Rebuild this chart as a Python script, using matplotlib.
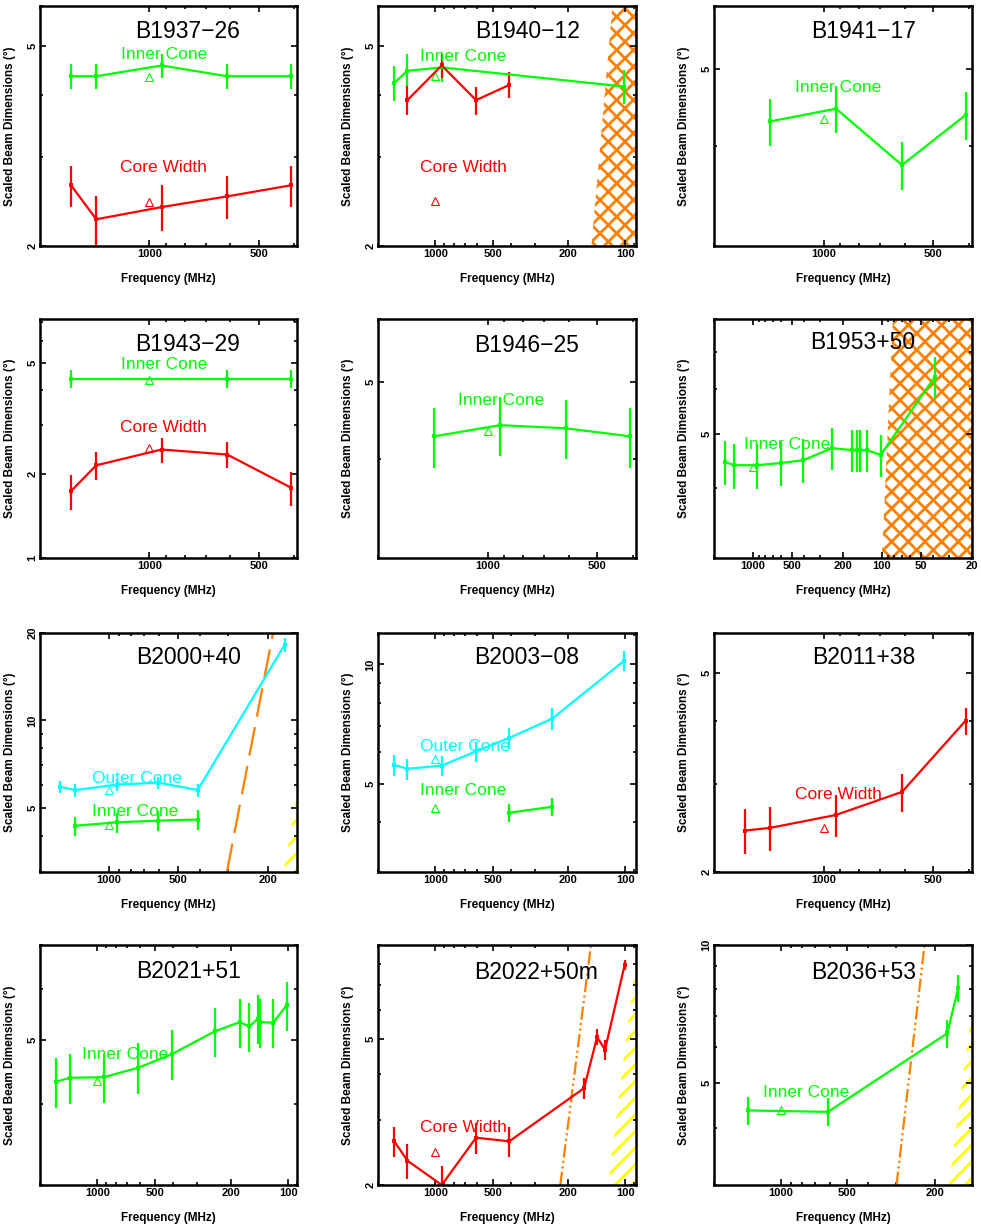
import matplotlib
matplotlib.use('Agg')
import matplotlib.pyplot as plt
from matplotlib.ticker import FixedLocator, FuncFormatter, NullFormatter

plt.rcParams['font.family'] = ['Liberation Sans', 'DejaVu Sans']
plt.rcParams['hatch.linewidth'] = 2.0

GREEN = '#00ff00'
RED = '#ff0000'
CYAN = '#00ffff'
ORANGE = '#ff8000'
YELLOW = '#ffff00'

# ---------------- data ----------------
# B1937-26
f1937 = [1642, 1400, 925, 610, 408]
inner1937 = [4.35, 4.35, 4.57, 4.35, 4.35]
inner1937_err = [0.25, 0.25, 0.25, 0.25, 0.25]
core1937 = [2.64, 2.26, 2.39, 2.51, 2.64]
core1937_err = [0.25, 0.25, 0.25, 0.25, 0.25]
tri1937_inner = 4.34
tri1937_core = 2.45

# B1940-12
f1940_inner = [1642, 1400, 925, 102]
inner1940 = [4.22, 4.46, 4.53, 4.15]
inner1940_err = [0.33, 0.35, 0.30, 0.32]
f1940_core = [1400, 925, 610, 408]
core1940 = [3.90, 4.57, 3.90, 4.18]
core1940_err = [0.26, 0.25, 0.25, 0.25]
tri1940_inner = 4.36
tri1940_core = 2.46
hatch1940 = [151, 117]  # boundary freq at y-bottom, y-top

# B1941-17
f1941 = [1400, 925, 610, 408]
inner1941 = [4.30, 4.46, 3.79, 4.38]
inner1941_err = [0.29, 0.30, 0.26, 0.30]
tri1941_inner = 4.33

# B1943-29
f1943_inner = [1642, 610, 408]
inner1943 = [4.39, 4.39, 4.39]
inner1943_err = [0.32, 0.32, 0.32]
f1943_core = [1642, 1400, 925, 610, 408]
core1943 = [1.74, 2.15, 2.45, 2.35, 1.79]
core1943_err = [0.25, 0.25, 0.25, 0.25, 0.25]
tri1943_inner = 4.35
tri1943_core = 2.48

# B1946-25
f1946 = [1400, 925, 610, 408]
inner1946 = [4.27, 4.41, 4.37, 4.27]
inner1946_err = [0.37, 0.38, 0.37, 0.37]
tri1946_inner = 4.34

# B1953+50
f1953 = [1642, 1400, 925, 610, 408, 243, 170, 157, 148, 130, 102, 39]
inner1953 = [4.45, 4.39, 4.39, 4.43, 4.48, 4.71, 4.67, 4.67, 4.67, 4.67, 4.58, 6.30]
inner1953_err = [0.40, 0.40, 0.40, 0.40, 0.40, 0.41, 0.40, 0.40, 0.40, 0.40, 0.40, 0.55]
tri1953_inner = 4.35
hatch1953 = [100, 82]

# B2000+40
f2000_outer = [1642, 1400, 925, 610, 408, 170]
outer2000 = [5.90, 5.75, 6.00, 6.10, 5.75, 18.2]
outer2000_err = [0.30, 0.30, 0.30, 0.30, 0.30, 1.0]
f2000_inner = [1400, 925, 610, 408]
inner2000 = [4.33, 4.45, 4.51, 4.55]
inner2000_err = [0.33, 0.35, 0.35, 0.35]
tri2000_outer = 5.77
tri2000_inner = 4.35
limit2000 = [(304, 3.0), (191, 20.0)]
yellow2000 = [(172, 3.0), (150, 5.53)]

# B2003-08
f2003_outer = [1642, 1400, 925, 610, 408, 243, 102]
outer2003 = [5.58, 5.46, 5.56, 6.04, 6.53, 7.30, 10.2]
outer2003_err = [0.33, 0.33, 0.33, 0.35, 0.40, 0.45, 0.60]
f2003_inner = [408, 243]
inner2003 = [4.23, 4.38]
inner2003_err = [0.21, 0.22]
tri2003_outer = 5.77
tri2003_inner = 4.34

# B2011+38
f2011 = [1642, 1400, 925, 610, 408]
core2011 = [2.42, 2.45, 2.60, 2.89, 4.01]
core2011_err = [0.25, 0.25, 0.25, 0.25, 0.25]
tri2011_core = 2.45

# B2021+51
f2021 = [1642, 1400, 925, 610, 408, 243, 180, 160, 144, 140, 120, 102]
inner2021 = [4.32, 4.38, 4.39, 4.54, 4.76, 5.16, 5.33, 5.25, 5.40, 5.33, 5.32, 5.66]
inner2021_err = [0.38, 0.38, 0.38, 0.41, 0.42, 0.45, 0.46, 0.46, 0.46, 0.46, 0.46, 0.49]
tri2021_inner = 4.33

# B2022+50m
f2022 = [1642, 1400, 925, 610, 408, 165, 141, 128, 101]
core2022 = [2.63, 2.33, 2.00, 2.69, 2.63, 3.67, 5.05, 4.67, 7.94]
core2022_err = [0.25, 0.25, 0.25, 0.26, 0.25, 0.25, 0.25, 0.30, 0.25]
tri2022_core = 2.46
limit2022 = [(220, 2.0), (151.4, 9.1)]
yellow2022 = [(123.5, 2.0), (88, 8.2)]

# B2036+53
f2036 = [1400, 610, 176, 157]
inner2036 = [4.36, 4.33, 6.42, 8.06]
inner2036_err = [0.30, 0.30, 0.45, 0.55]
tri2036_inner = 4.36
limit2036 = [(298.5, 3.0), (223, 10.0)]
yellow2036 = [(173, 3.0), (136, 7.33)]

X_MAJOR = [20, 50, 100, 200, 500, 1000]
Y_MAJOR = [1, 2, 5, 10, 20]

# ---------------- figure ----------------
W, H = 981, 1226
fig = plt.figure(figsize=(W / 100, H / 100), dpi=100)

COLS = [(40, 297), (378, 636), (714, 972)]
ROWS = [(6, 246), (319, 558), (633, 872), (945, 1185)]

minors = [m * 10 ** e for e in range(0, 4) for m in range(1, 10)]
x_minor = [v for v in minors if v not in X_MAJOR]
y_minor = [v for v in minors if v not in Y_MAJOR]


def make_ax(r, c, xlim, ylim):
    L, R = COLS[c]
    T, B = ROWS[r]
    ax = fig.add_axes([L / W, 1 - B / H, (R - L) / W, (B - T) / H])
    ax.set_xscale('log')
    ax.set_yscale('log')
    ax.set_xlim(*xlim)
    ax.set_ylim(*ylim)
    ax.xaxis.set_major_locator(FixedLocator(X_MAJOR))
    ax.xaxis.set_minor_locator(FixedLocator(x_minor))
    ax.yaxis.set_major_locator(FixedLocator(Y_MAJOR))
    ax.yaxis.set_minor_locator(FixedLocator(y_minor))
    fmt = FuncFormatter(lambda v, p: '%d' % round(v))
    ax.xaxis.set_major_formatter(fmt)
    ax.yaxis.set_major_formatter(fmt)
    ax.xaxis.set_minor_formatter(NullFormatter())
    ax.yaxis.set_minor_formatter(NullFormatter())
    ax.tick_params(which='both', direction='in', top=True, right=True, width=1.2)
    ax.tick_params(which='major', length=4.5)
    ax.tick_params(which='minor', length=2.5)
    ax.tick_params(axis='x', labelsize=8, pad=2.5)
    ax.tick_params(axis='y', labelsize=8, pad=2, labelrotation=90)
    for lab in ax.get_xticklabels() + ax.get_yticklabels():
        lab.set_fontweight('bold')
    for lab in ax.get_yticklabels():
        lab.set_va('center')
    for s in ax.spines.values():
        s.set_linewidth(1.8)
    ax.set_xlabel('Frequency (MHz)', fontsize=8.5, fontweight='bold', va='center')
    ax.xaxis.set_label_coords(0.5, -33 / (B - T))
    ax.set_ylabel('Scaled Beam Dimensions (°)', fontsize=8.5, fontweight='bold', va='center')
    ax.yaxis.set_label_coords(-30 / (R - L), 0.5)
    return ax


def series(ax, f, v, e, color):
    ax.errorbar(f, v, yerr=e, color=color, lw=1.6, elinewidth=1.6, capsize=3.5,
                capthick=1.6, marker='s', ms=3, mew=0)


def tri(ax, val, color):
    ax.plot([1000], [val], ls='none', marker='^', mfc='none', mec=color, ms=6, mew=0.8)


def title(ax, text, fx, fy):
    ax.text(fx, fy, text, transform=ax.transAxes, ha='center', va='center', fontsize=16.5)


def label(ax, text, fx, fy, color):
    ax.text(fx, fy, text, transform=ax.transAxes, ha='center', va='center', fontsize=12.5,
            color=color)


def cross_hatch(ax, bnd, xlim, ylim):
    ax.fill([bnd[0], bnd[1], xlim[1], xlim[1]], [ylim[0], ylim[1], ylim[1], ylim[0]],
            facecolor='none', edgecolor=ORANGE, hatch='xx', linewidth=0)


def yellow_hatch(ax, pts, ylim):
    (f0, y0), (f1, y1) = pts
    ax.fill([f0, f1, f1], [y0, y1, y0], facecolor='none', edgecolor=YELLOW, hatch='//',
            linewidth=0)


def limit_line(ax, pts, style):
    (f0, y0), (f1, y1) = pts
    ln, = ax.plot([f0, f1], [y0, y1], color=ORANGE, lw=1.6)
    ln.set_dashes(style)


# Panel 1: B1937-26
xl, yl = (2000, 392), (2, 6)
ax = make_ax(0, 0, xl, yl)
series(ax, f1937, inner1937, inner1937_err, GREEN)
series(ax, f1937, core1937, core1937_err, RED)
tri(ax, tri1937_inner, GREEN)
tri(ax, tri1937_core, RED)
title(ax, 'B1937\u221226', 0.576, 0.892)
label(ax, 'Inner Cone', 0.482, 0.796, GREEN)
label(ax, 'Core Width', 0.482, 0.329, RED)

# Panel 2: B1940-12
xl, yl = (2000, 88), (2, 6)
ax = make_ax(0, 1, xl, yl)
cross_hatch(ax, hatch1940, xl, yl)
series(ax, f1940_inner, inner1940, inner1940_err, GREEN)
series(ax, f1940_core, core1940, core1940_err, RED)
tri(ax, tri1940_inner, GREEN)
tri(ax, tri1940_core, RED)
title(ax, 'B1940\u221212', 0.58, 0.892)
label(ax, 'Inner Cone', 0.331, 0.79, GREEN)
label(ax, 'Core Width', 0.331, 0.325, RED)

# Panel 3: B1941-17
xl, yl = (2000, 392), (3, 6)
ax = make_ax(0, 2, xl, yl)
series(ax, f1941, inner1941, inner1941_err, GREEN)
tri(ax, tri1941_inner, GREEN)
title(ax, 'B1941\u221217', 0.578, 0.892)
label(ax, 'Inner Cone', 0.481, 0.6625, GREEN)

# Panel 4: B1943-29
xl, yl = (2000, 392), (1, 7.2)
ax = make_ax(1, 0, xl, yl)
series(ax, f1943_inner, inner1943, inner1943_err, GREEN)
series(ax, f1943_core, core1943, core1943_err, RED)
tri(ax, tri1943_inner, GREEN)
tri(ax, tri1943_core, RED)
title(ax, 'B1943\u221229', 0.576, 0.895)
label(ax, 'Inner Cone', 0.482, 0.81, GREEN)
label(ax, 'Core Width', 0.482, 0.545, RED)

# Panel 5: B1946-25
xl, yl = (2000, 392), (3, 6)
ax = make_ax(1, 1, xl, yl)
series(ax, f1946, inner1946, inner1946_err, GREEN)
tri(ax, tri1946_inner, GREEN)
title(ax, 'B1946\u221225', 0.576, 0.891)
label(ax, 'Inner Cone', 0.476, 0.661, GREEN)

# Panel 6: B1953+50
xl, yl = (2000, 20), (3, 8)
ax = make_ax(1, 2, xl, yl)
cross_hatch(ax, hatch1953, xl, yl)
series(ax, f1953, inner1953, inner1953_err, GREEN)
tri(ax, tri1953_inner, GREEN)
title(ax, 'B1953+50', 0.578, 0.9)
label(ax, 'Inner Cone', 0.282, 0.473, GREEN)

# Panel 7: B2000+40
xl, yl = (2000, 150), (3, 20)
ax = make_ax(2, 0, xl, yl)
yellow_hatch(ax, yellow2000, yl)
limit_line(ax, limit2000, (13, 4.8))
series(ax, f2000_outer, outer2000, outer2000_err, CYAN)
series(ax, f2000_inner, inner2000, inner2000_err, GREEN)
tri(ax, tri2000_outer, CYAN)
tri(ax, tri2000_inner, GREEN)
title(ax, 'B2000+40', 0.577, 0.898)
label(ax, 'Outer Cone', 0.376, 0.392, CYAN)
label(ax, 'Inner Cone', 0.37, 0.252, GREEN)

# Panel 8: B2003-08
xl, yl = (2000, 88), (3, 12)
ax = make_ax(2, 1, xl, yl)
series(ax, f2003_outer, outer2003, outer2003_err, CYAN)
series(ax, f2003_inner, inner2003, inner2003_err, GREEN)
tri(ax, tri2003_outer, CYAN)
tri(ax, tri2003_inner, GREEN)
title(ax, 'B2003\u221208', 0.576, 0.898)
label(ax, 'Outer Cone', 0.337, 0.527, CYAN)
label(ax, 'Inner Cone', 0.331, 0.339, GREEN)

# Panel 9: B2011+38
xl, yl = (2000, 392), (2, 6)
ax = make_ax(2, 2, xl, yl)
series(ax, f2011, core2011, core2011_err, RED)
tri(ax, tri2011_core, RED)
title(ax, 'B2011+38', 0.579, 0.898)
label(ax, 'Core Width', 0.482, 0.326, RED)

# Panel 10: B2021+51
xl, yl = (2000, 90), (3, 7)
ax = make_ax(3, 0, xl, yl)
series(ax, f2021, inner2021, inner2021_err, GREEN)
tri(ax, tri2021_inner, GREEN)
title(ax, 'B2021+51', 0.577, 0.889)
label(ax, 'Inner Cone', 0.331, 0.542, GREEN)

# Panel 11: B2022+50m
xl, yl = (2000, 88), (2, 9)
ax = make_ax(3, 1, xl, yl)
yellow_hatch(ax, yellow2022, yl)
limit_line(ax, limit2022, (6, 1.5, 1, 1.5, 1, 1.5))
series(ax, f2022, core2022, core2022_err, RED)
tri(ax, tri2022_core, RED)
title(ax, 'B2022+50m', 0.612, 0.885)
label(ax, 'Core Width', 0.331, 0.239, RED)

# Panel 12: B2036+53
xl, yl = (2000, 136), (3, 10)
ax = make_ax(3, 2, xl, yl)
yellow_hatch(ax, yellow2036, yl)
limit_line(ax, limit2036, (6, 1.5, 1, 1.5, 1, 1.5))
series(ax, f2036, inner2036, inner2036_err, GREEN)
tri(ax, tri2036_inner, GREEN)
title(ax, 'B2036+53', 0.579, 0.885)
label(ax, 'Inner Cone', 0.359, 0.386, GREEN)

fig.savefig('out.png', dpi=100)
